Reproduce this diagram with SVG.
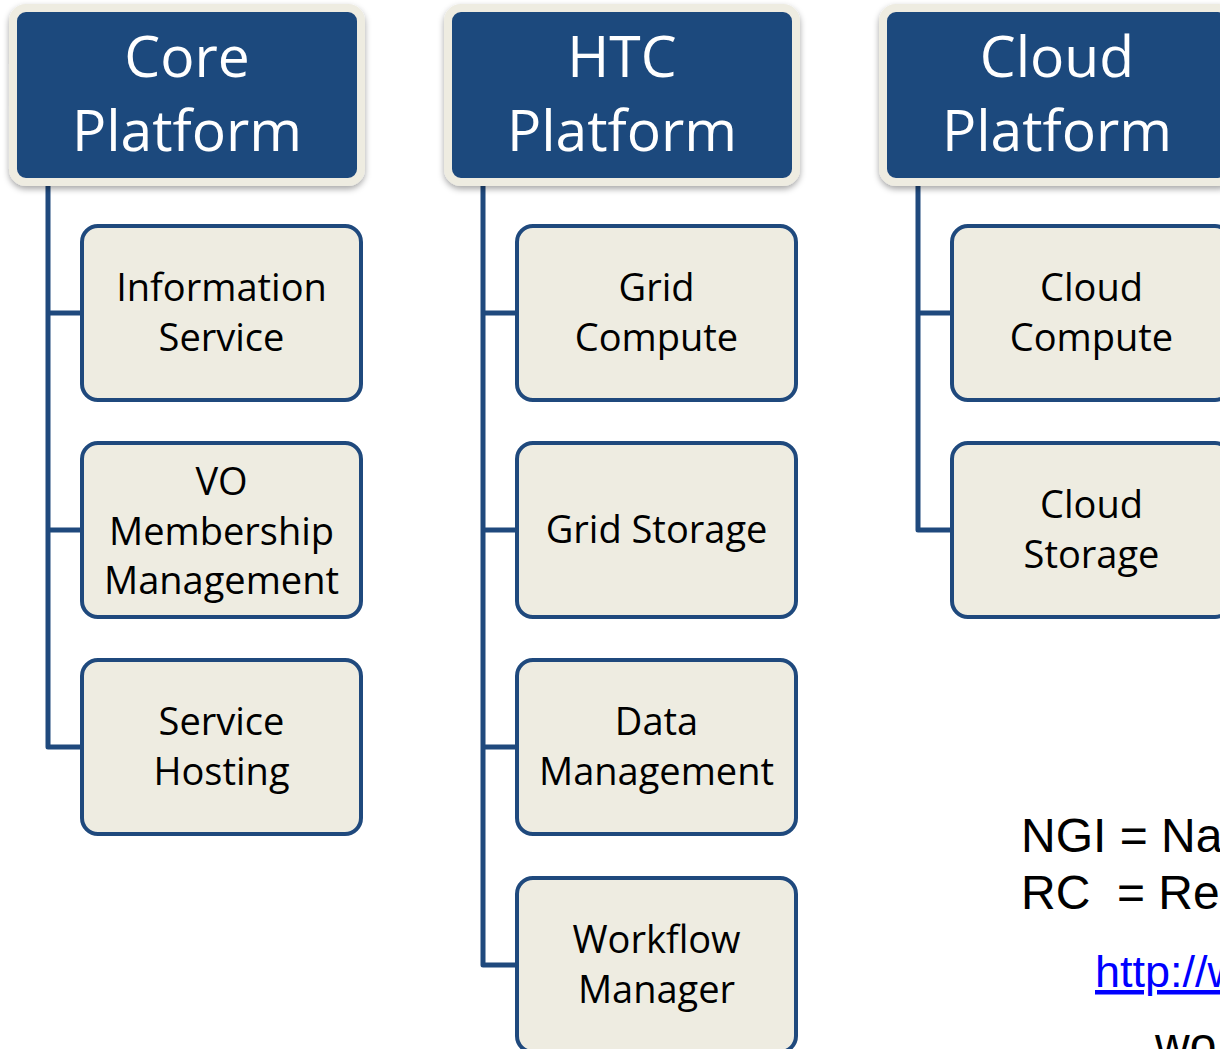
<svg xmlns="http://www.w3.org/2000/svg" width="1220" height="1049" viewBox="0 0 1220 1049">
<style>
.hdr{fill:#1F497D;stroke:#EEECE1;stroke-width:8;filter:url(#sh)}
.hdrt{font-family:"Open Sans","Noto Sans",sans-serif;font-size:57px;fill:#FFFFFF;text-anchor:middle}
.box{fill:#EEECE1;stroke:#1F497D;stroke-width:4}
.boxt{font-family:"Open Sans","Noto Sans",sans-serif;font-size:38px;fill:#000000;text-anchor:middle}
.con{fill:none;stroke:#1F497D;stroke-width:5;stroke-linejoin:round}
.note{font-family:"Liberation Sans",Arial,sans-serif;font-size:48px;fill:#000000;white-space:pre}
.link{font-family:"Liberation Sans",Arial,sans-serif;font-size:45px;fill:#0000FF;text-decoration:underline}
</style>
<defs>
<filter id="sh" x="-10%" y="-10%" width="120%" height="130%">
<feDropShadow dx="0" dy="3" stdDeviation="3" flood-color="#000000" flood-opacity="0.35"/>
</filter>
</defs>
<rect width="1220" height="1049" fill="#FFFFFF"/>
<g id="connectors">
<path class="con" d="M48,182 V747 H82 M48,313 H82 M48,530 H82"/>
<path class="con" d="M483,182 V965 H517 M483,313 H517 M483,530 H517 M483,747 H517"/>
<path class="con" d="M918,182 V530 H952 M918,313 H952"/>
</g>
<g id="core-platform">
<rect class="hdr" x="13" y="8" width="348" height="174" rx="13"/>
<text class="hdrt" x="187" y="77">Core</text>
<text class="hdrt" x="187" y="151">Platform</text>
</g>
<g id="htc-platform">
<rect class="hdr" x="448" y="8" width="348" height="174" rx="13"/>
<text class="hdrt" x="622" y="77">HTC</text>
<text class="hdrt" x="622" y="151">Platform</text>
</g>
<g id="cloud-platform">
<rect class="hdr" x="883" y="8" width="348" height="174" rx="13"/>
<text class="hdrt" x="1057" y="77">Cloud</text>
<text class="hdrt" x="1057" y="151">Platform</text>
</g>
<g id="information-service">
<rect class="box" x="82" y="226" width="279" height="174" rx="16"/>
<text class="boxt" x="221.5" y="301">Information</text>
<text class="boxt" x="221.5" y="351">Service</text>
</g>
<g id="vo-membership-management">
<rect class="box" x="82" y="443" width="279" height="174" rx="16"/>
<text class="boxt" x="221.5" y="495">VO</text>
<text class="boxt" x="221.5" y="545">Membership</text>
<text class="boxt" x="221.5" y="594">Management</text>
</g>
<g id="service-hosting">
<rect class="box" x="82" y="660" width="279" height="174" rx="16"/>
<text class="boxt" x="221.5" y="735">Service</text>
<text class="boxt" x="221.5" y="785">Hosting</text>
</g>
<g id="grid-compute">
<rect class="box" x="517" y="226" width="279" height="174" rx="16"/>
<text class="boxt" x="656.5" y="301">Grid</text>
<text class="boxt" x="656.5" y="351">Compute</text>
</g>
<g id="grid-storage">
<rect class="box" x="517" y="443" width="279" height="174" rx="16"/>
<text class="boxt" x="656.5" y="543">Grid Storage</text>
</g>
<g id="data-management">
<rect class="box" x="517" y="660" width="279" height="174" rx="16"/>
<text class="boxt" x="656.5" y="735">Data</text>
<text class="boxt" x="656.5" y="785">Management</text>
</g>
<g id="workflow-manager">
<rect class="box" x="517" y="878" width="279" height="174" rx="16"/>
<text class="boxt" x="656.5" y="953">Workflow</text>
<text class="boxt" x="656.5" y="1003">Manager</text>
</g>
<g id="cloud-compute">
<rect class="box" x="952" y="226" width="279" height="174" rx="16"/>
<text class="boxt" x="1091.5" y="301">Cloud</text>
<text class="boxt" x="1091.5" y="351">Compute</text>
</g>
<g id="cloud-storage">
<rect class="box" x="952" y="443" width="279" height="174" rx="16"/>
<text class="boxt" x="1091.5" y="518">Cloud</text>
<text class="boxt" x="1091.5" y="568">Storage</text>
</g>
<g id="notes">
<text class="note" x="1021" y="852" xml:space="preserve">NGI = Na</text>
<text class="note" x="1021" y="909" xml:space="preserve">RC  = Re</text>
<text class="link" x="1095" y="987">http://w</text>
<text class="note" x="1155" y="1061" font-size="44">wo</text>
</g>
</svg>
